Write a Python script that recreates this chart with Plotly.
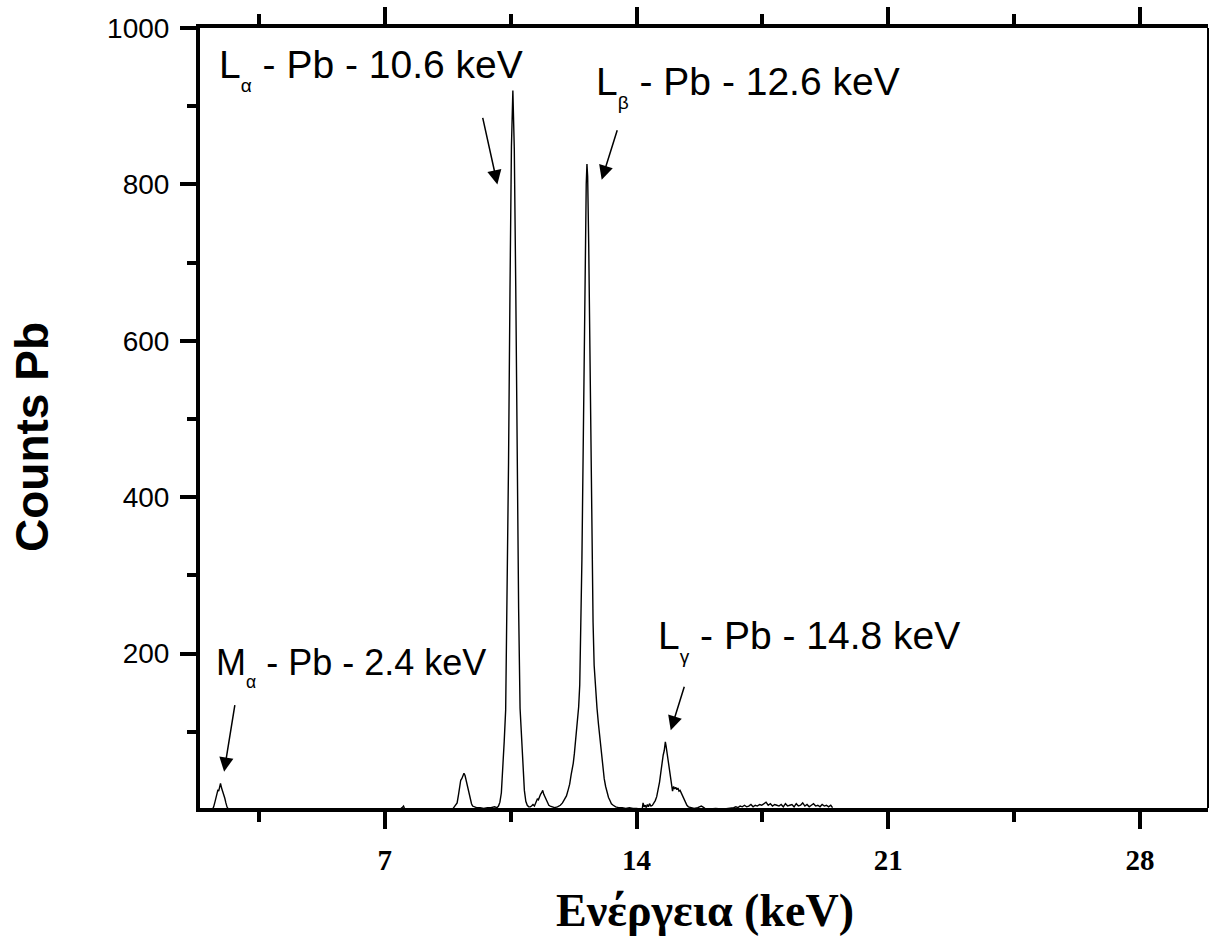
import plotly.graph_objects as go

# ---- spectrum data (energy in keV, counts) ----
energy_kev = [
    2.20, 2.24, 2.28, 2.32, 2.36, 2.38, 2.41, 2.43, 2.46, 2.49, 2.52, 2.55, 2.58, 2.61, 2.65, 2.70,
    2.80, 3.20, 3.60, 4.00, 4.50, 5.00, 5.50, 6.00, 6.50, 7.00, 7.40, 7.48, 7.52, 7.56, 7.90, 8.30, 8.60, 8.80, 8.90,
    8.93, 8.97, 9.01, 9.05, 9.08, 9.11, 9.14, 9.17, 9.20, 9.23, 9.26, 9.29, 9.32, 9.35, 9.38, 9.41, 9.44, 9.48,
    9.55, 9.65, 9.75, 9.85, 9.95, 10.05, 10.10,
    10.12, 10.16, 10.20, 10.24, 10.28, 10.32, 10.36, 10.40, 10.44, 10.48, 10.52, 10.56, 10.60, 10.64, 10.68,
    10.72, 10.76, 10.80, 10.84, 10.88, 10.92, 10.96, 11.00,
    11.04, 11.08, 11.12, 11.16, 11.20, 11.24, 11.27, 11.30, 11.33, 11.36, 11.39, 11.42, 11.45, 11.48, 11.52,
    11.56, 11.60, 11.66, 11.70,
    11.72, 11.80, 11.88, 11.94, 12.00, 12.05, 12.10, 12.14, 12.18, 12.21, 12.24, 12.27, 12.30, 12.33, 12.36,
    12.39, 12.42, 12.45, 12.48, 12.51, 12.54, 12.57, 12.60, 12.62, 12.64, 12.67, 12.70, 12.73, 12.76, 12.79,
    12.82, 12.86, 12.90, 12.94, 12.98, 13.02, 13.06, 13.10, 13.14, 13.18, 13.22, 13.26, 13.30, 13.35, 13.42, 13.50,
    13.60, 13.70, 13.80, 13.90, 14.00, 14.10,
    14.16, 14.18, 14.21, 14.24, 14.27, 14.30, 14.33, 14.36, 14.40, 14.44, 14.48, 14.52, 14.56, 14.60, 14.64,
    14.68, 14.71, 14.74, 14.77, 14.80, 14.82, 14.85, 14.88, 14.91, 14.94, 14.97, 15.00, 15.03, 15.06, 15.09,
    15.12, 15.15, 15.18, 15.21, 15.24, 15.28, 15.32, 15.36, 15.40, 15.44, 15.50, 15.60, 15.70, 15.80, 15.84,
    15.90, 16.00, 16.20, 16.40, 16.60,
    16.70, 16.76, 16.82, 16.88, 16.94, 17.00, 17.06, 17.12, 17.18, 17.24, 17.30, 17.36, 17.42, 17.48, 17.54,
    17.60, 17.66, 17.72, 17.78, 17.84, 17.90, 17.96, 18.02, 18.08, 18.14, 18.20, 18.26, 18.32, 18.38, 18.44,
    18.50, 18.56, 18.62, 18.68, 18.74, 18.80, 18.86, 18.92, 18.98, 19.04, 19.10, 19.16, 19.22, 19.28, 19.34,
    19.40, 19.45,
]

counts = [
    0, 4, 11, 18, 26, 24, 31, 34, 28, 24, 19, 15, 9, 4, 1, 0,
    0, 0, 0, 0, 0, 0, 0, 0, 0, 0, 0, 3, 5, 0, 0, 0, 0, 1, 2,
    4, 6, 9, 20, 33, 38, 40, 43, 47, 44, 38, 33, 25, 19, 12, 8, 5, 4,
    3, 3, 2, 3, 3, 4, 3,
    3, 5, 10, 22, 50, 88, 128, 255, 445, 665, 848, 920, 845, 670, 450,
    258, 130, 90, 52, 25, 11, 6, 4,
    4, 5, 7, 5, 9, 14, 13, 17, 20, 22, 25, 20, 17, 12, 8,
    6, 5, 4, 3,
    3, 4, 6, 9, 13, 18, 26, 33, 45, 52, 60, 72, 86, 98, 115,
    132, 160, 225, 320, 440, 575, 700, 800, 826, 810, 720, 590, 450, 330, 240,
    185, 150, 130, 110, 90, 70, 54, 40, 30, 22, 16, 12, 8, 6, 4, 3,
    3, 2, 3, 2, 2, 1,
    2, 9, 4, 6, 3, 7, 4, 8, 5, 6, 9, 12, 17, 25, 36,
    50, 62, 70, 76, 87, 82, 72, 60, 48, 37, 27, 24, 30, 27, 29,
    26, 28, 24, 25, 22, 17, 13, 9, 6, 4, 3, 2, 3, 5, 4,
    2, 1, 2, 1, 2,
    3, 4, 3, 5, 4, 6, 4, 5, 7, 4, 6, 5, 7, 6, 8,
    10, 6, 8, 5, 7, 6, 5, 7, 4, 8, 5, 6, 7, 4, 8,
    5, 6, 9, 5, 7, 4, 6, 8, 5, 6, 4, 7, 5, 6, 4,
    6, 3,
]

x_tick_vals = [7, 14, 21, 28]
x_minor_vals = [3.5, 10.5, 17.5, 24.5]
y_tick_vals = [200, 400, 600, 800, 1000]
y_minor_vals = [100, 300, 500, 700, 900]

# peak labels: text, font size, text anchor (keV, counts), arrow tip (keV, counts), arrow tail offset (px)
peak_labels = [
    ("L<sub><sub>α</sub></sub> - Pb - 10.6 keV", 39, 2.32, 983, 10.13, 800, -15, -68),
    ("L<sub><sub>β</sub></sub> - Pb - 12.6 keV", 39, 12.82, 962, 13.03, 806, 16, -51),
    ("M<sub><sub>α</sub></sub> - Pb - 2.4 keV", 36, 2.24, 217, 2.53, 49, 11, -68),
    ("L<sub><sub>γ</sub></sub> - Pb - 14.8 keV", 39, 14.53, 253, 14.95, 102, 14, -45),
]

SANS = "Liberation Sans, Arial, sans-serif"
SERIF = "Liberation Serif, Times New Roman, serif"

fig = go.Figure()
fig.add_trace(go.Scatter(
    x=energy_kev, y=counts, mode="lines",
    line=dict(color="black", width=1.4), showlegend=False,
))

annotations = []
for text, fsize, tx, ty, px, py, ax, ay in peak_labels:
    annotations.append(dict(
        x=tx, y=ty, xref="x", yref="y", text=text, showarrow=False,
        xanchor="left", yanchor="top",
        font=dict(family=SANS, size=fsize, color="black"),
    ))
    annotations.append(dict(
        x=px, y=py, xref="x", yref="y", text="", showarrow=True,
        ax=ax, ay=ay, axref="pixel", ayref="pixel",
        arrowhead=2, arrowsize=1.9, arrowwidth=1.5, arrowcolor="black", standoff=0,
    ))

annotations.append(dict(
    x=-0.1667, y=0.4756, xref="paper", yref="paper", text="Counts Pb",
    showarrow=False, textangle=-90, xanchor="center", yanchor="middle",
    font=dict(family=SANS, size=46, color="black", weight="bold"),
))
annotations.append(dict(
    x=0.501, y=-0.132, xref="paper", yref="paper", text="Ενέργεια (keV)",
    showarrow=False, xanchor="center", yanchor="middle",
    font=dict(family=SERIF, size=46, color="black", weight="bold"),
))

fig.update_layout(
    width=1211, height=943,
    margin=dict(l=200, r=3, t=28, b=135),
    paper_bgcolor="white", plot_bgcolor="white",
    annotations=annotations,
    shapes=[dict(type="line", xref="paper", yref="paper", x0=1, x1=1, y0=0, y1=1,
                 line=dict(color="black", width=2))],
    xaxis=dict(
        range=[1.86, 29.89], tickmode="array", tickvals=x_tick_vals,
        ticks="outside", ticklen=17, tickwidth=4, tickcolor="black",
        showline=True, linewidth=4, linecolor="black", mirror="ticks",
        showgrid=False, zeroline=False, ticklabelstandoff=6,
        tickfont=dict(family=SERIF, size=29, color="black", weight="bold"),
        minor=dict(tickmode="array", tickvals=x_minor_vals, ticks="outside",
                   ticklen=10, tickwidth=4, tickcolor="black", showgrid=False),
    ),
    yaxis=dict(
        range=[2.5, 1000], tickmode="array", tickvals=y_tick_vals,
        ticks="outside", ticklen=16, tickwidth=4, tickcolor="black",
        showline=True, linewidth=4, linecolor="black", mirror=False,
        showgrid=False, zeroline=False, ticklabelstandoff=5,
        tickfont=dict(family=SANS, size=28, color="black"),
        minor=dict(tickmode="array", tickvals=y_minor_vals, ticks="outside",
                   ticklen=9, tickwidth=4, tickcolor="black", showgrid=False),
    ),
)

fig.write_html("out.html")
